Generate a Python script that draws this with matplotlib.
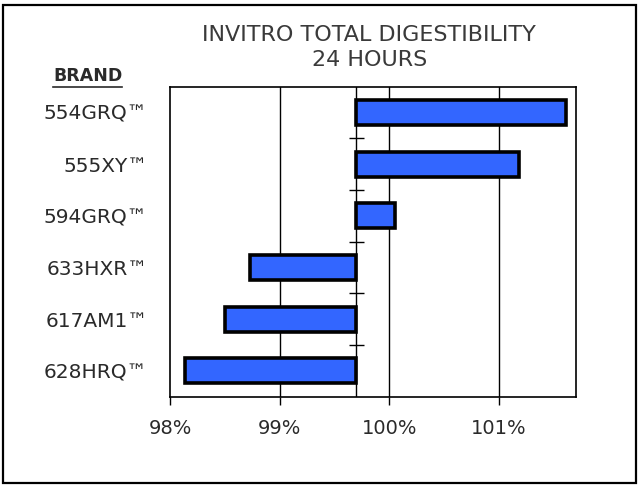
import matplotlib
matplotlib.use('Agg')
import matplotlib.pyplot as plt
from matplotlib.patches import Rectangle
from matplotlib.lines import Line2D

# ── dados ────────────────────────────────────────────────────────────────
brands = ["554GRQ™", "555XY™", "594GRQ™", "633HXR™", "617AM1™", "628HRQ™"]
digestibility = [101.61, 101.18, 100.05, 98.73, 98.50, 98.14]   # %
baseline = 99.70                                                # media (%)
x_ticks = [98, 99, 100, 101]
x_tick_labels = ["98%", "99%", "100%", "101%"]
title = "INVITRO TOTAL DIGESTIBILITY\n24 HOURS"

plt.rcParams['font.family'] = ['DejaVu Sans']
text_color = "#2a2a2a"

fig = plt.figure(figsize=(6.39, 4.86), dpi=100)
ax = fig.add_axes([0.266, 0.1837, 0.635, 0.638])

ypos = list(range(len(brands)))
widths = [v - baseline for v in digestibility]
ax.barh(ypos, widths, left=baseline, height=0.48, color="#3366FF",
        edgecolor="black", linewidth=2.6, zorder=3)

ax.set_xlim(98, 101.7)
ax.set_ylim(len(brands) - 0.5, -0.5)

# grade vertical
for t in x_ticks[1:]:
    ax.axvline(t, color="black", linewidth=1.0, zorder=1)

# eixo de categorias cruzando no baseline
ax.axvline(baseline, color="black", linewidth=1.0, zorder=2)
bounds = [i + 0.5 for i in ypos[:-1]]
ax.hlines(bounds, baseline - 0.07, baseline + 0.07, color="black",
          linewidth=1.0, zorder=2)

ax.set_xticks(x_ticks)
ax.set_xticklabels(x_tick_labels, fontsize=14, color=text_color)
ax.tick_params(axis='x', direction='out', length=6, width=1.0, pad=10)
ax.set_yticks(ypos)
ax.set_yticklabels(brands, fontsize=14.5, color=text_color)
ax.tick_params(axis='y', length=0, pad=16)
for s in ax.spines.values():
    s.set_linewidth(1.2)

fig.text(0.578, 0.903, title, ha="center", va="center", fontsize=16,
         color="#3a3a3a", linespacing=1.3)

brand_txt = fig.text(0.137, 0.843, "BRAND", ha="center", va="center",
                     fontsize=12.5, fontweight="bold", color=text_color)
fig.canvas.draw()
bb = brand_txt.get_window_extent().transformed(fig.transFigure.inverted())
fig.lines.append(Line2D([bb.x0, bb.x1], [bb.y0 - 0.004, bb.y0 - 0.004],
                        transform=fig.transFigure, color=text_color, linewidth=1.2))

# moldura externa
fig.patches.append(Rectangle((0.005, 0.006), 0.99, 0.984, transform=fig.transFigure,
                             fill=False, edgecolor="black", linewidth=1.6))

plt.savefig("out.png", dpi=100)
plt.close()
